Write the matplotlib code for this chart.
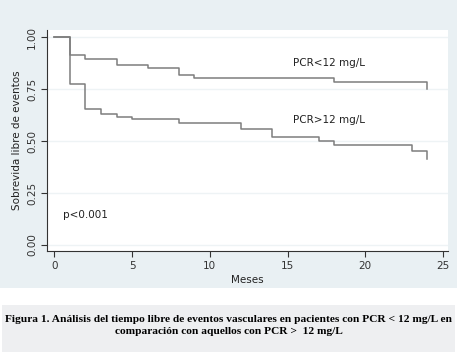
import matplotlib
matplotlib.use("Agg")
import matplotlib.pyplot as plt

# Kaplan-Meier estimates
meses_bajo = [0, 1, 2, 4, 6, 8, 9, 18, 24]
surv_bajo = [1.0, 0.915, 0.893, 0.865, 0.849, 0.817, 0.801, 0.784, 0.75]

meses_alto = [0, 1, 2, 3, 4, 5, 8, 12, 14, 17, 18, 23, 24]
surv_alto = [1.0, 0.774, 0.652, 0.628, 0.614, 0.604, 0.585, 0.556, 0.518, 0.50, 0.479, 0.453, 0.412]

xticks = [0, 5, 10, 15, 20, 25]
yticks = [0.0, 0.25, 0.5, 0.75, 1.0]
ytick_labels = ["0.00", "0.25", "0.50", "0.75", "1.00"]

bg = "#e9f0f3"
line_col = "#7d7d7d"

fig = plt.figure(figsize=(4.57, 3.52), dpi=100)
fig.patch.set_facecolor("white")

# chart background and caption box
fig.patches.append(plt.Rectangle((0, 1 - 288 / 352), 1, 288 / 352, transform=fig.transFigure,
                                 facecolor=bg, edgecolor="none", zorder=-1))
fig.patches.append(plt.Rectangle((2 / 457, 0), 453 / 457, 47 / 352, transform=fig.transFigure,
                                 facecolor="#eeeff1", edgecolor="none", zorder=-1))

ax = fig.add_axes([47 / 457, 1 - 251 / 352, 401 / 457, 221 / 352])
ax.set_facecolor("white")

for y in yticks:
    ax.axhline(y, color="#eef3f5", lw=1.0, zorder=1)

ax.step(meses_bajo, surv_bajo, where="post", color=line_col, lw=1.1, zorder=3)
ax.step(meses_alto, surv_alto, where="post", color=line_col, lw=1.1, zorder=3)

ax.text(17.65, 0.873, "PCR<12 mg/L", ha="center", va="center", fontsize=7.5, color="#222222")
ax.text(17.65, 0.60, "PCR>12 mg/L", ha="center", va="center", fontsize=7.5, color="#222222")
ax.text(0.56, 0.144, "p<0.001", ha="left", va="center", fontsize=7.5, color="#222222")

ax.set_xlim(-0.47, 25.32)
ax.set_ylim(-0.029, 1.034)
ax.set_xticks(xticks)
ax.set_yticks(yticks)
ax.set_yticklabels(ytick_labels, rotation=90, va="center")
ax.tick_params(labelsize=7.5, colors="#333333", length=4, width=0.8, pad=3)

for s in ["top", "right"]:
    ax.spines[s].set_visible(False)
for s in ["left", "bottom"]:
    ax.spines[s].set_color("#333333")
    ax.spines[s].set_linewidth(0.8)

ax.set_xlabel("Meses", fontsize=7.5, color="#222222", labelpad=3)
ax.set_ylabel("Sobrevida libre de eventos", fontsize=7.5, color="#222222", labelpad=4)

fig.text(0.5, 1 - 319 / 352, "Figura 1. Análisis del tiempo libre de eventos vasculares en pacientes con PCR < 12 mg/L en",
         ha="center", va="center", fontsize=8.2, fontweight="bold", family="Liberation Serif")
fig.text(0.5, 1 - 331 / 352, "comparación con aquellos con PCR >  12 mg/L",
         ha="center", va="center", fontsize=8.2, fontweight="bold", family="Liberation Serif")

fig.savefig("out.png", dpi=100, facecolor=fig.get_facecolor())
